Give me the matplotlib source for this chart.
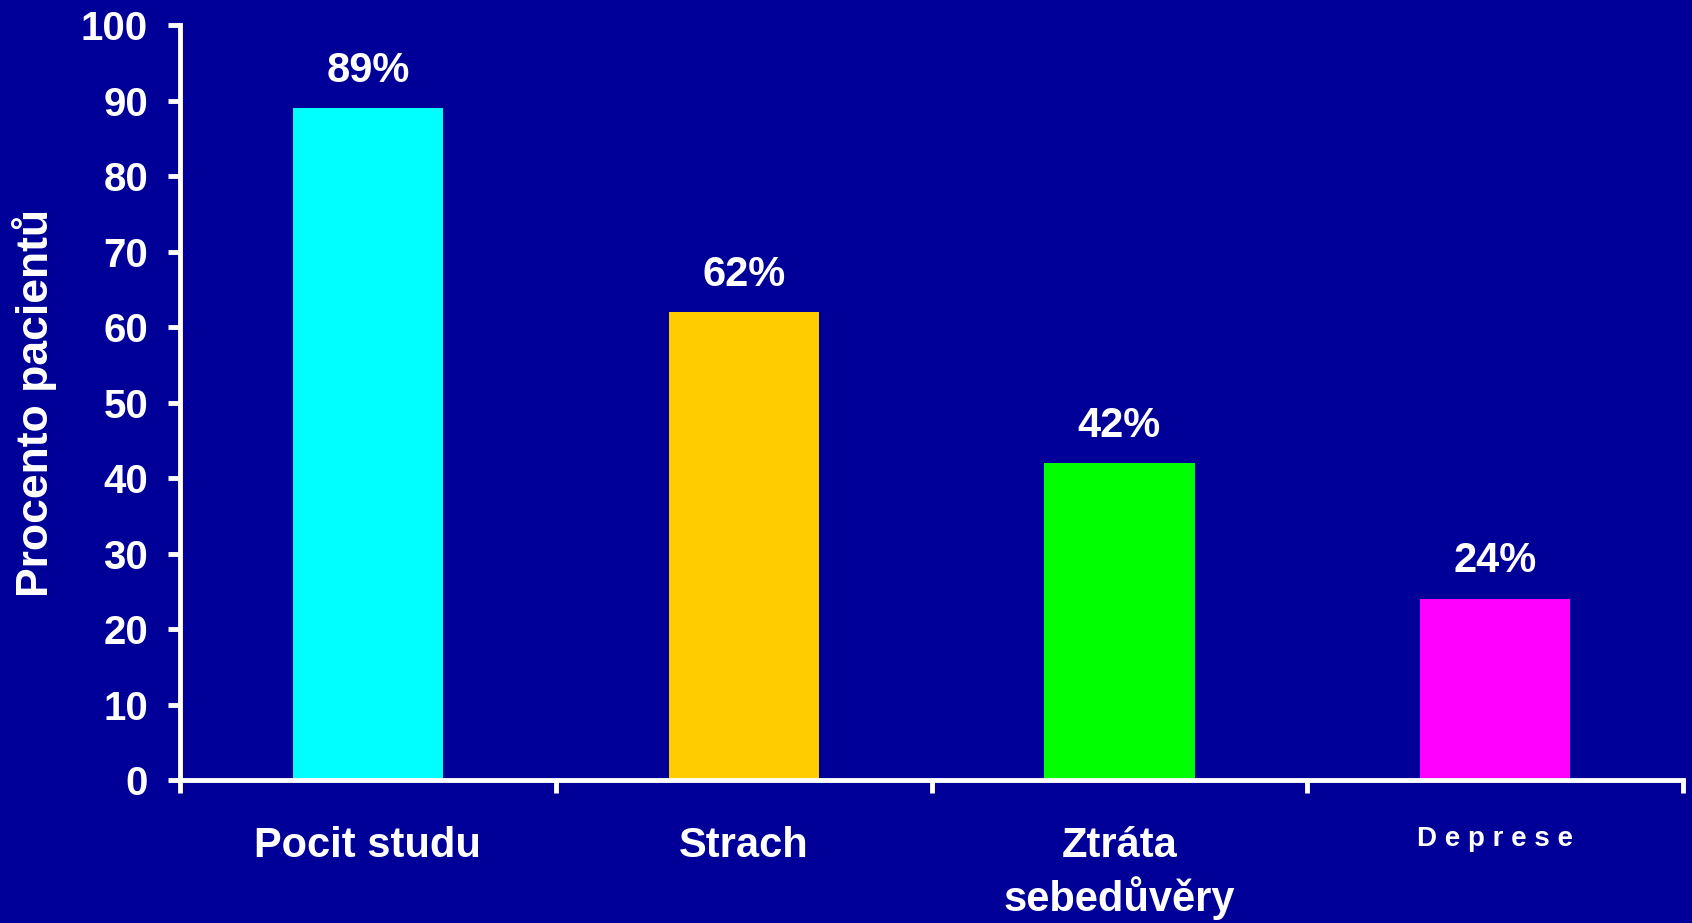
import numpy as np
import matplotlib.pyplot as plt

categories = ['Pocit studu', 'Strach', 'Ztráta\nsebedůvěry', 'D e p r e s e']
values = [89, 62, 42, 24]
bar_colors = ['#00FFFF', '#FFCC00', '#00FF00', '#FF00FF']
value_labels = ['89%', '62%', '42%', '24%']
yticks = np.arange(0, 101, 10)

bg = '#000099'
plt.rcParams['font.family'] = ['Liberation Sans', 'DejaVu Sans']
plt.rcParams['font.weight'] = 'bold'

fig = plt.figure(figsize=(16.92, 9.23), dpi=100, facecolor=bg)
ax = fig.add_axes([0.1064, 0.1549, 0.8883, 0.818], facecolor=bg)

x = np.arange(len(values))
ax.bar(x, values, width=0.4, color=bar_colors, zorder=2)

for xi, v, lab in zip(x, values, value_labels):
    ax.annotate(lab, (xi, v), xytext=(0, 19), textcoords='offset points',
                ha='center', va='baseline', color='white',
                fontsize=30, fontweight='bold')

ax.set_xlim(-0.5, len(values) - 0.5)
ax.set_ylim(0, 100)
ax.set_yticks(yticks)
ax.set_yticklabels([str(t) for t in yticks])

# category boundaries carry the tick marks, centres carry the labels
ax.set_xticks(np.arange(len(values) + 1) - 0.5)
ax.set_xticklabels([])
ax.set_xticks(x, minor=True)
ax.set_xticklabels(categories, minor=True, fontsize=30, fontweight='bold',
                   color='white', linespacing=1.3)
ax.tick_params(axis='x', which='minor', length=0, pad=33)
ax.get_xticklabels(minor=True)[3].set_fontsize(20)

ax.tick_params(axis='both', which='major', colors='white', width=3.5,
               length=9, direction='out')
ax.tick_params(axis='y', labelsize=29, pad=14)
for t in ax.get_yticklabels():
    t.set_fontweight('bold')

for side in ['top', 'right']:
    ax.spines[side].set_visible(False)
for side in ['left', 'bottom']:
    ax.spines[side].set_color('white')
    ax.spines[side].set_linewidth(3.5)
    ax.spines[side].set_zorder(3)

ax.set_ylabel('Procento pacientů', fontsize=32, fontweight='bold', color='white')
ax.yaxis.set_label_coords(-0.082, 0.5)

plt.savefig('out.png', dpi=100, facecolor=bg)
